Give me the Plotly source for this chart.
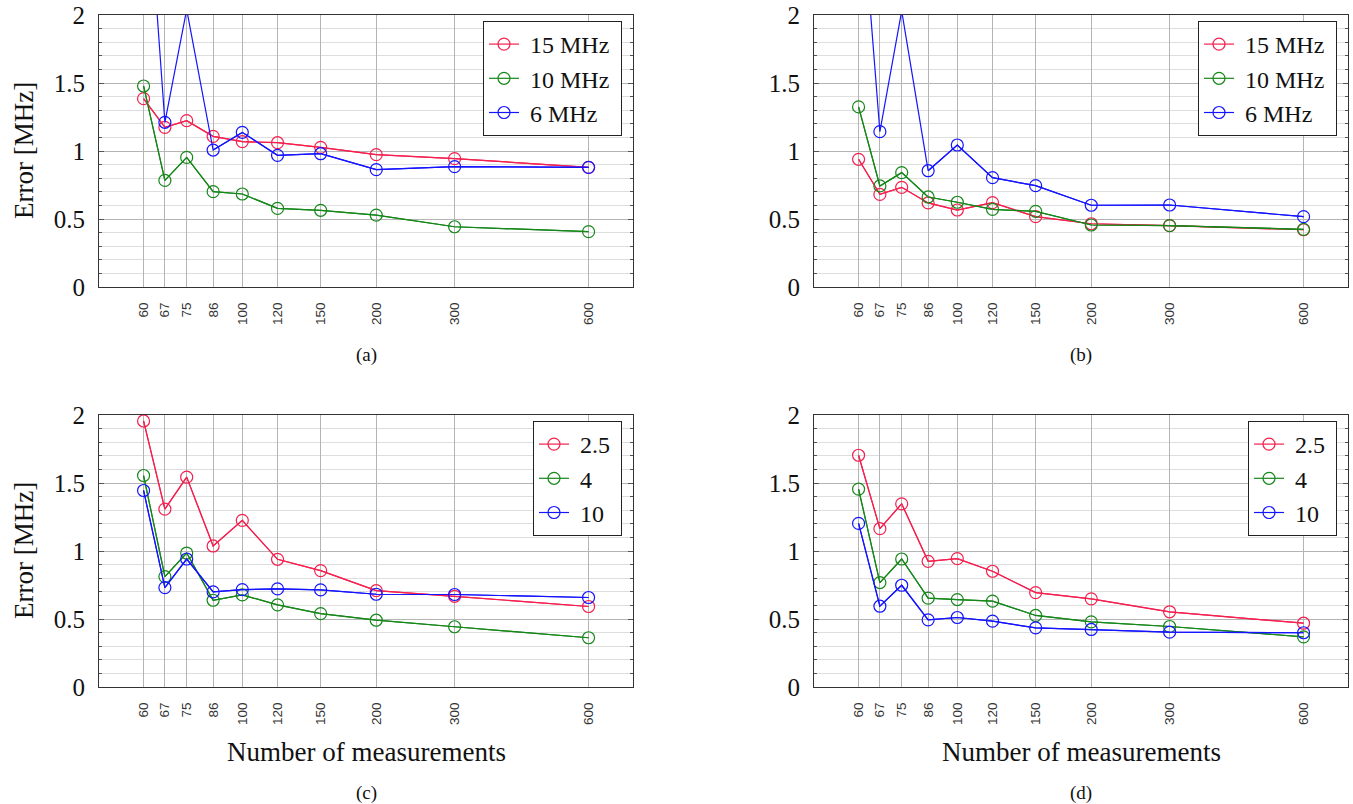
import plotly.graph_objects as go

# ---- data ----
n_meas = [60, 67, 75, 86, 100, 120, 150, 200, 300, 600]
tick_labels = ["60", "67", "75", "86", "100", "120", "150", "200", "300", "600"]

# panel (a)
a_15 = [1.385, 1.174, 1.223, 1.108, 1.069, 1.061, 1.027, 0.973, 0.944, 0.880]
a_10 = [1.478, 0.784, 0.953, 0.701, 0.684, 0.578, 0.564, 0.529, 0.443, 0.407]
a_6 = [3.40, 1.211, 2.04, 1.007, 1.137, 0.968, 0.980, 0.863, 0.885, 0.880]
# panel (b)
b_15 = [0.939, 0.681, 0.733, 0.618, 0.566, 0.620, 0.517, 0.465, 0.451, 0.421]
b_10 = [1.324, 0.743, 0.841, 0.662, 0.623, 0.571, 0.556, 0.456, 0.451, 0.424]
b_6 = [3.14, 1.142, 2.03, 0.855, 1.044, 0.804, 0.745, 0.601, 0.603, 0.517]
# panel (c)
c_25 = [1.956, 1.308, 1.543, 1.037, 1.225, 0.939, 0.856, 0.709, 0.667, 0.592]
c_4 = [1.555, 0.812, 0.985, 0.638, 0.677, 0.604, 0.540, 0.491, 0.443, 0.362]
c_10 = [1.445, 0.731, 0.941, 0.699, 0.716, 0.721, 0.714, 0.682, 0.680, 0.658]
# panel (d)
d_25 = [1.704, 1.164, 1.347, 0.924, 0.944, 0.851, 0.694, 0.648, 0.553, 0.469]
d_4 = [1.455, 0.768, 0.941, 0.653, 0.643, 0.631, 0.526, 0.479, 0.445, 0.369]
d_10 = [1.203, 0.594, 0.748, 0.494, 0.511, 0.484, 0.435, 0.423, 0.403, 0.399]

names_top = ["15 MHz", "10 MHz", "6 MHz"]
names_bot = ["2.5", "4", "10"]

RED = "#f5204f"
GREEN = "#16871a"
BLUE = "#1414ff"
colors = [RED, GREEN, BLUE]
YMAX = 2.0
SERIF = "Liberation Serif"

fig = go.Figure()

panels = [
    ("x", "y", "legend", [a_15, a_10, a_6], names_top),
    ("x2", "y2", "legend2", [b_15, b_10, b_6], names_top),
    ("x3", "y3", "legend3", [c_25, c_4, c_10], names_bot),
    ("x4", "y4", "legend4", [d_25, d_4, d_10], names_bot),
]

NB = "\u00a0"
for pi, (xa, ya, lg, series, names) in enumerate(panels):
    for vals, name, col in zip(series, names, colors):
        grp = f"{pi}-{name}"
        # full polyline (continues beyond the top of the axis)
        fig.add_trace(go.Scatter(
            x=n_meas, y=vals, mode="lines", showlegend=False,
            xaxis=xa, yaxis=ya, legend=lg, legendgroup=grp,
            line=dict(color=col, width=1.2), cliponaxis=True,
            hoverinfo="skip",
        ))
        # markers only for points inside the visible range
        shown = [v if v <= YMAX else None for v in vals]
        fig.add_trace(go.Scatter(
            x=n_meas, y=shown, name=NB + name + NB, mode="lines+markers",
            xaxis=xa, yaxis=ya, legend=lg, legendgroup=grp,
            connectgaps=False,
            line=dict(color=col, width=1.2),
            marker=dict(symbol="circle-open", size=12, color=col,
                        line=dict(width=1.2, color=col)),
            cliponaxis=True,
        ))

W, H = 1353, 804
def px_x(p):
    return p / W
def px_y(p):
    return 1 - p / H

xdom_left = [px_x(99), px_x(633)]
xdom_right = [px_x(814), px_x(1348)]
ydom_top = [px_y(287), px_y(15)]
ydom_bot = [px_y(687), px_y(415)]

def xaxis_cfg(dom, anchor):
    return dict(
        domain=dom, anchor=anchor, type="log",
        range=[1.678, 2.878],
        tickvals=n_meas, ticktext=tick_labels, tickangle=-90,
        tickfont=dict(family="Liberation Sans", size=13.5, color="#333"),
        showgrid=True, gridcolor="#b4b4b4", gridwidth=1,
        showline=True, linecolor="#333", linewidth=1.2, mirror=True,
        ticks="", zeroline=False, ticklabelstandoff=9, automargin=False,
    )

def yaxis_cfg(dom, anchor):
    return dict(
        domain=dom, anchor=anchor, range=[0, YMAX],
        tickvals=[0, 0.5, 1, 1.5, 2], ticktext=["0", "0.5", "1", "1.5", "2"],
        tickfont=dict(family=SERIF, size=25, color="#111"),
        showgrid=True, gridcolor="#b4b4b4", gridwidth=1,
        minor=dict(dtick=0.1, tick0=0, showgrid=True, gridcolor="#dedede",
                   gridwidth=1, ticks="inside", ticklen=3, tickcolor="#555"),
        showline=True, linecolor="#333", linewidth=1.2, mirror="allticks",
        ticks="inside", ticklen=5, tickcolor="#555",
        zeroline=False, ticklabelstandoff=8, automargin=False,
    )

fig.update_layout(
    width=W, height=H,
    margin=dict(l=0, r=0, t=0, b=0, autoexpand=False),
    paper_bgcolor="white", plot_bgcolor="white",
    showlegend=True,
    xaxis=xaxis_cfg(xdom_left, "y"),
    yaxis=yaxis_cfg(ydom_top, "x"),
    xaxis2=xaxis_cfg(xdom_right, "y2"),
    yaxis2=yaxis_cfg(ydom_top, "x2"),
    xaxis3=xaxis_cfg(xdom_left, "y3"),
    yaxis3=yaxis_cfg(ydom_bot, "x3"),
    xaxis4=xaxis_cfg(xdom_right, "y4"),
    yaxis4=yaxis_cfg(ydom_bot, "x4"),
)

def legend_cfg(xr, yt):
    return dict(
        x=px_x(xr), y=px_y(yt), xanchor="right", yanchor="top",
        bgcolor="white", bordercolor="#222", borderwidth=1,
        font=dict(family=SERIF, size=24, color="#111"),
        tracegroupgap=0,
    )

fig.update_layout(
    legend=legend_cfg(622, 21),
    legend2=legend_cfg(1337, 21),
    legend3=legend_cfg(622, 421),
    legend4=legend_cfg(1337, 421),
)

annotations = []
for cx, cy, txt in [(366, 355, "(a)"), (1081, 355, "(b)"), (366, 793, "(c)"), (1081, 793, "(d)")]:
    annotations.append(dict(x=px_x(cx), y=px_y(cy), xref="paper", yref="paper",
                            xanchor="center", yanchor="middle",
                            text=txt, showarrow=False,
                            font=dict(family=SERIF, size=19, color="#111")))
for cx in [366, 1081]:
    annotations.append(dict(x=px_x(cx), y=px_y(752), xref="paper", yref="paper",
                            xanchor="center", yanchor="middle",
                            text="Number of measurements", showarrow=False,
                            font=dict(family=SERIF, size=27, color="#111")))
for cy in [151, 551]:
    annotations.append(dict(x=px_x(24), y=px_y(cy), xref="paper", yref="paper",
                            xanchor="center", yanchor="middle",
                            text="Error [MHz]", showarrow=False, textangle=-90,
                            font=dict(family=SERIF, size=27, color="#111")))
fig.update_layout(annotations=annotations)

fig.write_html("out.html", config={"displayModeBar": False},
               post_script="document.body.style.margin='0px';")
